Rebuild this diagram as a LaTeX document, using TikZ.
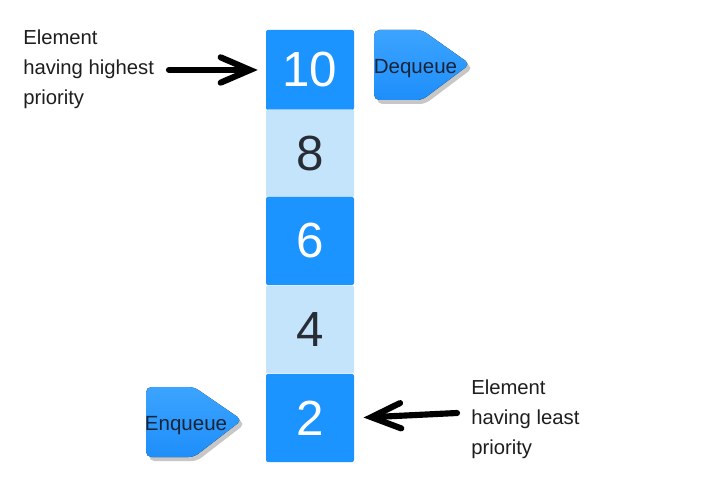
\documentclass[tikz,border=0pt]{standalone}
\usepackage{fontspec}
\setmainfont{Liberation Sans}
\usetikzlibrary{arrows.meta}
\definecolor{darkblue}{RGB}{28,148,255}
\definecolor{lightblue}{RGB}{196,228,252}
\definecolor{numdark}{RGB}{40,44,52}
\definecolor{tagtop}{RGB}{60,164,255}
\definecolor{tagbot}{RGB}{30,142,250}
\definecolor{tagtext}{RGB}{22,36,56}
\definecolor{labeltext}{RGB}{30,30,30}
\tikzset{
  cell/.style={minimum width=66pt, inner sep=0pt, rounded corners=1.5pt,
    font=\fontsize{37}{40}\selectfont},
  hotcell/.style={cell, fill=darkblue, text=white},
  coolcell/.style={cell, fill=lightblue, text=numdark},
  sidelabel/.style={align=left, inner sep=0pt, text=labeltext,
    font=\fontsize{15.2}{22.5}\selectfont},
  handarrow/.style={line width=4.6pt, line cap=round, line join=round,
    -{Straight Barb[length=22pt, width=19pt, line cap=round]}},
  tagtextstyle/.style={inner sep=0pt, text=tagtext, font=\fontsize{15.4}{18}\selectfont},
  tagshadow/.style={fill=black!22, rounded corners=4pt},
  tagbody/.style={top color=tagtop, bottom color=tagbot, rounded corners=4pt}
}
\begin{document}
\begin{tikzpicture}[x=0.75pt, y=-0.75pt]
\useasboundingbox (0,0) rectangle (706,488);
\fill[white] (0,0) rectangle (706,488);

% stack cells
\node[hotcell,  minimum height=60pt] (n10) at (310,70) {10};
\node[coolcell, minimum height=66pt] (n8)  at (310,153.5) {8};
\node[hotcell,  minimum height=66pt] (n6)  at (310,241) {6};
\node[coolcell, minimum height=66pt] (n4)  at (310,329.5) {4};
\node[hotcell,  minimum height=66pt] (n2)  at (310,418) {2};

% Dequeue tag
\fill[tagshadow] (377,34) -- (425,34) -- (473,68) -- (425,104) -- (377,104) -- cycle;
\fill[tagbody] (374,30) -- (422,30) -- (470,64) -- (422,100) -- (374,100) -- cycle;
\node[tagtextstyle] (deq) at (415.5,68.5) {Dequeue};

% Enqueue tag
\fill[tagshadow] (149,391) -- (197,391) -- (245,424) -- (197,461) -- (149,461) -- cycle;
\fill[tagbody] (146,387) -- (194,387) -- (242,420) -- (194,457) -- (146,457) -- cycle;
\node[tagtextstyle] (enq) at (186,425.5) {Enqueue};

% labels
\node[sidelabel, anchor=north west] (hi) at (23,30) {Element\\having highest\\priority};
\node[sidelabel, anchor=north west] (lo) at (471,380) {Element\\having least\\priority};

% arrows
\coordinate (histart) at (169,70);
\coordinate (lostart) at (457,413);
\draw[handarrow, shorten >=6pt] (histart) -- (n10.west);
\draw[handarrow, shorten >=7pt] (lostart) -- (n2.east);
\end{tikzpicture}
\end{document}
